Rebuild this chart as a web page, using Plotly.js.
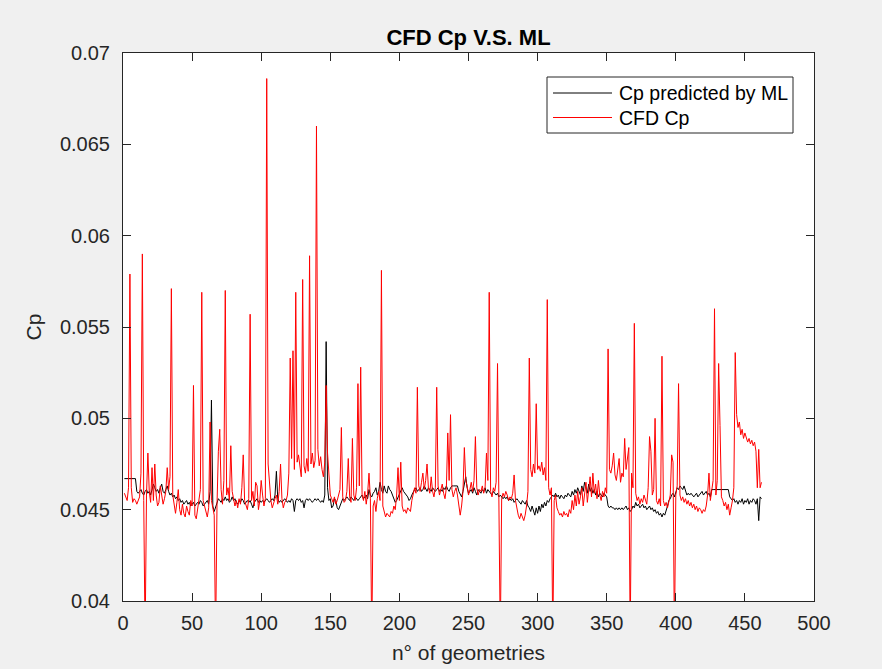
<!DOCTYPE html>
<html>
<head>
<meta charset="utf-8">
<script src="https://cdn.plot.ly/plotly-3.0.1.min.js"></script>
<style>
  html, body { margin: 0; padding: 0; background: #f0f0f0; }
  #chart { width: 882px; height: 669px; }
</style>
</head>
<body>
<div id="chart"></div>
<script>
const chartTitle = 'CFD Cp V.S. ML';
const xLabel = 'n° of geometries';
const yLabel = 'Cp';
const seriesNames = ['Cp predicted by ML', 'CFD Cp'];
const seriesColors = ['#000000', '#ff0000'];
const xTickVals = [0, 50, 100, 150, 200, 250, 300, 350, 400, 450, 500];
const xTickText = ['0', '50', '100', '150', '200', '250', '300', '350', '400', '450', '500'];
const yTickVals = [0.04, 0.045, 0.05, 0.055, 0.06, 0.065, 0.07];
const yTickText = ['0.04', '0.045', '0.05', '0.055', '0.06', '0.065', '0.07'];

// Cp predicted by ML (black)
const cpML = [
  0.0467, 0.0467, 0.0467, 0.0467, 0.0467, 0.0467, 0.0467, 0.0467, 0.0467, 0.0460,
  0.0459, 0.0460, 0.0461, 0.0459, 0.0458, 0.0460, 0.0461, 0.0459, 0.0460, 0.0458,
  0.0461, 0.0464, 0.0462, 0.0460, 0.0461, 0.0459, 0.0462, 0.0464, 0.0460, 0.0459,
  0.0461, 0.0463, 0.0460, 0.0458, 0.0459, 0.0457, 0.0458, 0.0456, 0.0457, 0.0455,
  0.0456, 0.0454, 0.0455, 0.0453, 0.0454, 0.0455, 0.0453, 0.0454, 0.0452, 0.0453,
  0.0454, 0.0452, 0.0453, 0.0454, 0.0453, 0.0455, 0.0454, 0.0452, 0.0453, 0.0454,
  0.0455, 0.0453, 0.0460, 0.0510, 0.0452, 0.0449, 0.0451, 0.0454, 0.0456, 0.0455,
  0.0454, 0.0456, 0.0455, 0.0457, 0.0455, 0.0456, 0.0454, 0.0455, 0.0457, 0.0455,
  0.0456, 0.0454, 0.0453, 0.0455, 0.0454, 0.0456, 0.0455, 0.0453, 0.0454, 0.0455,
  0.0454, 0.0455, 0.0453, 0.0451, 0.0454, 0.0455, 0.0456, 0.0454, 0.0455, 0.0454,
  0.0455, 0.0454, 0.0455, 0.0456, 0.0455, 0.0454, 0.0455, 0.0456, 0.0455, 0.0458,
  0.0471, 0.0456, 0.0454, 0.0455, 0.0454, 0.0455, 0.0456, 0.0455, 0.0454, 0.0455,
  0.0454, 0.0456, 0.0455, 0.0449, 0.0455, 0.0456, 0.0455, 0.0456, 0.0454, 0.0455,
  0.0451, 0.0455, 0.0456, 0.0455, 0.0456, 0.0455, 0.0454, 0.0455, 0.0456, 0.0455,
  0.0456, 0.0455, 0.0454, 0.0455, 0.0454, 0.0458, 0.0542, 0.0462, 0.0455, 0.0456,
  0.0451, 0.0452, 0.0456, 0.0455, 0.0451, 0.0450, 0.0452, 0.0455, 0.0456, 0.0455,
  0.0456, 0.0457, 0.0456, 0.0455, 0.0457, 0.0456, 0.0455, 0.0457, 0.0456, 0.0455,
  0.0456, 0.0457, 0.0458, 0.0456, 0.0457, 0.0458, 0.0456, 0.0461, 0.0458, 0.0457,
  0.0459, 0.0460, 0.0462, 0.0458, 0.0460, 0.0465, 0.0461, 0.0459, 0.0463, 0.0460,
  0.0459, 0.0463, 0.0461, 0.0460, 0.0458, 0.0456, 0.0454, 0.0455, 0.0457, 0.0459,
  0.0461, 0.0462, 0.0460, 0.0459, 0.0458, 0.0457, 0.0455, 0.0456, 0.0458, 0.0460,
  0.0461, 0.0462, 0.0460, 0.0461, 0.0462, 0.0460, 0.0461, 0.0463, 0.0461, 0.0460,
  0.0462, 0.0461, 0.0460, 0.0462, 0.0461, 0.0460, 0.0461, 0.0462, 0.0460, 0.0461,
  0.0460, 0.0462, 0.0461, 0.0463, 0.0461, 0.0460, 0.0462, 0.0463, 0.0463, 0.0463,
  0.0463, 0.0463, 0.0460, 0.0458, 0.0457, 0.0460, 0.0465, 0.0468, 0.0462, 0.0459,
  0.0460, 0.0461, 0.0459, 0.0462, 0.0460, 0.0458, 0.0461, 0.0460, 0.0459, 0.0461,
  0.0460, 0.0462, 0.0459, 0.0461, 0.0460, 0.0459, 0.0458, 0.0460, 0.0459, 0.0458,
  0.0459, 0.0457, 0.0458, 0.0457, 0.0456, 0.0457, 0.0456, 0.0457, 0.0455, 0.0456,
  0.0455, 0.0456, 0.0454, 0.0455, 0.0456, 0.0455, 0.0454, 0.0453, 0.0455, 0.0454,
  0.0453, 0.0455, 0.0452, 0.0451, 0.0449, 0.0452, 0.0450, 0.0447, 0.0451, 0.0448,
  0.0452, 0.0449, 0.0453, 0.0451, 0.0454, 0.0452, 0.0455, 0.0454, 0.0456, 0.0457,
  0.0458, 0.0457, 0.0459, 0.0457, 0.0458, 0.0456, 0.0458, 0.0457, 0.0456, 0.0458,
  0.0457, 0.0459, 0.0458, 0.0457, 0.0460, 0.0458, 0.0461, 0.0459, 0.0462, 0.0460,
  0.0458, 0.0463, 0.0460, 0.0465, 0.0461, 0.0459, 0.0464, 0.0460, 0.0462, 0.0459,
  0.0461, 0.0458, 0.0460, 0.0457, 0.0459, 0.0458, 0.0457, 0.0459, 0.0458, 0.0457,
  0.0452, 0.0451, 0.0452, 0.0451, 0.0451, 0.0450, 0.0451, 0.0450, 0.0451, 0.0450,
  0.0451, 0.0450, 0.0451, 0.0452, 0.0450, 0.0451, 0.0449, 0.0450, 0.0452, 0.0451,
  0.0454, 0.0452, 0.0453, 0.0451, 0.0452, 0.0453, 0.0451, 0.0452, 0.0450, 0.0451,
  0.0452, 0.0450, 0.0451, 0.0449, 0.0450, 0.0448, 0.0449, 0.0447, 0.0448, 0.0446,
  0.0448, 0.0447, 0.0449, 0.0452, 0.0455, 0.0456, 0.0458, 0.0459, 0.0457, 0.0460,
  0.0462, 0.0461, 0.0463, 0.0462, 0.0461, 0.0463, 0.0460, 0.0458, 0.0459, 0.0458,
  0.0459, 0.0458, 0.0457, 0.0458, 0.0459, 0.0457, 0.0458, 0.0459, 0.0460, 0.0458,
  0.0459, 0.0460, 0.0458, 0.0459, 0.0457, 0.0461, 0.0461, 0.0461, 0.0461, 0.0461,
  0.0461, 0.0461, 0.0461, 0.0461, 0.0461, 0.0461, 0.0461, 0.0461, 0.0457, 0.0456,
  0.0455, 0.0456, 0.0454, 0.0455, 0.0453, 0.0455, 0.0454, 0.0456, 0.0453, 0.0455,
  0.0454, 0.0456, 0.0453, 0.0455, 0.0454, 0.0456, 0.0455, 0.0453, 0.0456, 0.0444,
  0.0457, 0.0456
];

// CFD Cp (red)
const cpCFD = [
  0.0459, 0.0457, 0.0455, 0.0462, 0.0579, 0.0462, 0.0454, 0.0456, 0.0455, 0.0453,
  0.0455, 0.0457, 0.0470, 0.0590, 0.0455, 0.0378, 0.0458, 0.0481, 0.0460, 0.0454,
  0.0473, 0.0455, 0.0475, 0.0458, 0.0452, 0.0454, 0.0463, 0.0458, 0.0453, 0.0456,
  0.0460, 0.0473, 0.0461, 0.0468, 0.0571, 0.0458, 0.0452, 0.0448, 0.0454, 0.0461,
  0.0450, 0.0447, 0.0453, 0.0448, 0.0446, 0.0452, 0.0449, 0.0447, 0.0455, 0.0452,
  0.0518, 0.0447, 0.0445, 0.0451, 0.0458, 0.0461, 0.0569, 0.0455, 0.0452, 0.0448,
  0.0446, 0.0451, 0.0498, 0.0455, 0.0450, 0.0447, 0.0378, 0.0452, 0.0482, 0.0494,
  0.0461, 0.0453, 0.0466, 0.0570, 0.0458, 0.0462, 0.0455, 0.0485, 0.0460, 0.0456,
  0.0452, 0.0455, 0.0451, 0.0456, 0.0453, 0.0462, 0.0480, 0.0455, 0.0452, 0.0450,
  0.0456, 0.0557, 0.0455, 0.0460, 0.0452, 0.0465, 0.0463, 0.0450, 0.0455, 0.0466,
  0.0458, 0.0452, 0.0456, 0.0686, 0.0475, 0.0462, 0.0455, 0.0451, 0.0454, 0.0456,
  0.0458, 0.0453, 0.0460, 0.0475, 0.0456, 0.0451, 0.0454, 0.0455, 0.0458, 0.0470,
  0.0533, 0.0478, 0.0537, 0.0472, 0.0569, 0.0476, 0.0480, 0.0472, 0.0468, 0.0576,
  0.0474, 0.0470, 0.0478, 0.0471, 0.0589, 0.0475, 0.0481, 0.0473, 0.0477, 0.0660,
  0.0483, 0.0474, 0.0479, 0.0472, 0.0468, 0.0476, 0.0518, 0.0481, 0.0466, 0.0458,
  0.0456, 0.0454, 0.0457, 0.0453, 0.0455, 0.0458, 0.0461, 0.0495, 0.0457, 0.0454,
  0.0455, 0.0460, 0.0478, 0.0457, 0.0454, 0.0489, 0.0458, 0.0455, 0.0462, 0.0519,
  0.0463, 0.0528, 0.0458, 0.0455, 0.0460, 0.0453, 0.0459, 0.0470, 0.0456, 0.0378,
  0.0452, 0.0455, 0.0449, 0.0456, 0.0460, 0.0455, 0.0581, 0.0452, 0.0448, 0.0446,
  0.0448, 0.0447, 0.0446, 0.0449, 0.0448, 0.0452, 0.0450, 0.0458, 0.0473, 0.0455,
  0.0476, 0.0452, 0.0449, 0.0450, 0.0448, 0.0451, 0.0450, 0.0449, 0.0455, 0.0458,
  0.0462, 0.0459, 0.0517, 0.0463, 0.0460, 0.0465, 0.0470, 0.0461, 0.0466, 0.0475,
  0.0462, 0.0459, 0.0468, 0.0460, 0.0457, 0.0462, 0.0517, 0.0463, 0.0458, 0.0461,
  0.0464, 0.0459, 0.0456, 0.0462, 0.0492, 0.0466, 0.0502, 0.0461, 0.0457, 0.0460,
  0.0462, 0.0458, 0.0451, 0.0447, 0.0452, 0.0460, 0.0484, 0.0466, 0.0463, 0.0458,
  0.0461, 0.0465, 0.0460, 0.0466, 0.0490, 0.0462, 0.0458, 0.0461, 0.0460, 0.0463,
  0.0459, 0.0462, 0.0481, 0.0466, 0.0569, 0.0460, 0.0457, 0.0462, 0.0460, 0.0465,
  0.0530, 0.0458, 0.0378, 0.0456, 0.0459, 0.0457, 0.0460, 0.0458, 0.0455, 0.0457,
  0.0456, 0.0459, 0.0469, 0.0455, 0.0450, 0.0447, 0.0445, 0.0448, 0.0446, 0.0444,
  0.0447, 0.0452, 0.0460, 0.0533, 0.0472, 0.0468, 0.0475, 0.0470, 0.0508, 0.0472,
  0.0474, 0.0471, 0.0476, 0.0469, 0.0473, 0.0466, 0.0565, 0.0462, 0.0458, 0.0462,
  0.0378, 0.0455, 0.0458, 0.0451, 0.0449, 0.0447, 0.0448, 0.0446, 0.0449, 0.0447,
  0.0448, 0.0446, 0.0450, 0.0448, 0.0455, 0.0450, 0.0458, 0.0452, 0.0460, 0.0453,
  0.0457, 0.0462, 0.0452, 0.0459, 0.0465, 0.0454, 0.0461, 0.0468, 0.0457, 0.0470,
  0.0459, 0.0464, 0.0456, 0.0466, 0.0458, 0.0455, 0.0460, 0.0457, 0.0462, 0.0459,
  0.0538, 0.0472, 0.0470, 0.0474, 0.0481, 0.0469, 0.0466, 0.0472, 0.0478, 0.0465,
  0.0470, 0.0468, 0.0489, 0.0472, 0.0478, 0.0484, 0.0378, 0.0470, 0.0462, 0.0552,
  0.0459, 0.0455, 0.0457, 0.0453, 0.0456, 0.0454, 0.0458, 0.0455, 0.0453, 0.0462,
  0.0490, 0.0482, 0.0458, 0.0461, 0.0500, 0.0455, 0.0453, 0.0456, 0.0452, 0.0534,
  0.0455, 0.0452, 0.0454, 0.0451, 0.0455, 0.0458, 0.0480, 0.0476, 0.0378, 0.0458,
  0.0463, 0.0519, 0.0458, 0.0455, 0.0457, 0.0454, 0.0456, 0.0453, 0.0455, 0.0452,
  0.0454, 0.0451, 0.0453, 0.0450, 0.0452, 0.0449, 0.0451, 0.0450, 0.0448, 0.0450,
  0.0449, 0.0452, 0.0458, 0.0470, 0.0455, 0.0462, 0.0466, 0.0560, 0.0458, 0.0466,
  0.0530, 0.0496, 0.0457, 0.0455, 0.0452, 0.0454, 0.0450, 0.0453, 0.0447, 0.0451,
  0.0455, 0.0462, 0.0536, 0.0502, 0.0495, 0.0498, 0.0491, 0.0494, 0.0489, 0.0492,
  0.0490, 0.0487, 0.0489, 0.0486, 0.0488, 0.0485, 0.0487, 0.0482, 0.0462, 0.0483,
  0.0462, 0.0465
];

const geometryIndex = cpCFD.map((_, i) => i + 1);

const FONT = 'Liberation Sans, Arial, Helvetica, sans-serif';
const AXC = '#262626';
const W = 882, H = 669;
const M = { l: 123, r: 68, t: 53, b: 68 };
const pw = W - M.l - M.r, ph = H - M.t - M.b;
const px = v => (v - M.l) / pw;          // page pixel -> paper x
const py = v => (H - M.b - v) / ph;      // page pixel -> paper y

const traces = seriesNames.map((name, k) => ({
  x: geometryIndex, y: k === 0 ? cpML : cpCFD, type: 'scatter', mode: 'lines', name: name,
  line: { color: seriesColors[k], width: 1 }
}));

const axisCommon = {
  showgrid: false, zeroline: false, showline: true, linecolor: AXC, linewidth: 1,
  ticks: 'inside', ticklen: 8, tickwidth: 1, tickcolor: AXC, mirror: 'allticks',
  tickfont: { family: FONT, size: 20, color: AXC }
};

// MATLAB-style legend box (tight padding), drawn in the upper right of the axes
const legBox = { x0: 547, x1: 793, y0: 77, y1: 133 };
const legRows = [93, 117.5];
const shapes = [{
  type: 'rect', xref: 'paper', yref: 'paper',
  x0: px(legBox.x0), x1: px(legBox.x1), y0: py(legBox.y1), y1: py(legBox.y0),
  line: { color: AXC, width: 1 }, fillcolor: '#ffffff', layer: 'above'
}];
const annotations = [];
seriesNames.forEach((name, k) => {
  shapes.push({
    type: 'line', xref: 'paper', yref: 'paper',
    x0: px(553), x1: px(612), y0: py(legRows[k]), y1: py(legRows[k]),
    line: { color: seriesColors[k], width: 1 }, layer: 'above'
  });
  annotations.push({
    xref: 'paper', yref: 'paper', x: px(617), y: py(legRows[k]),
    xanchor: 'left', yanchor: 'middle', showarrow: false, text: name,
    font: { family: FONT, size: 19.5, color: '#000000' }
  });
});

const layout = {
  width: W, height: H,
  paper_bgcolor: '#f0f0f0', plot_bgcolor: '#ffffff',
  margin: { l: M.l, r: M.r, t: M.t, b: M.b, pad: 0 },
  showlegend: false,
  title: {
    text: '<b>' + chartTitle + '</b>',
    font: { family: FONT, size: 22, color: '#000000' },
    x: 0.5, xref: 'paper', xanchor: 'center',
    y: 1 - 37 / H, yref: 'container', yanchor: 'middle'
  },
  xaxis: Object.assign({}, axisCommon, {
    range: [0, 500], tickmode: 'array', tickvals: xTickVals, ticktext: xTickText,
    ticklabelstandoff: 4,
    title: { text: xLabel, font: { family: FONT, size: 21, color: AXC }, standoff: 12 }
  }),
  yaxis: Object.assign({}, axisCommon, {
    range: [0.04, 0.07], tickmode: 'array', tickvals: yTickVals, ticktext: yTickText,
    ticklabelstandoff: 8,
    title: { text: yLabel, font: { family: FONT, size: 21, color: AXC }, standoff: 12 }
  }),
  shapes: shapes,
  annotations: annotations
};

Plotly.newPlot('chart', traces, layout, { staticPlot: true, displayModeBar: false });
</script>
</body>
</html>
